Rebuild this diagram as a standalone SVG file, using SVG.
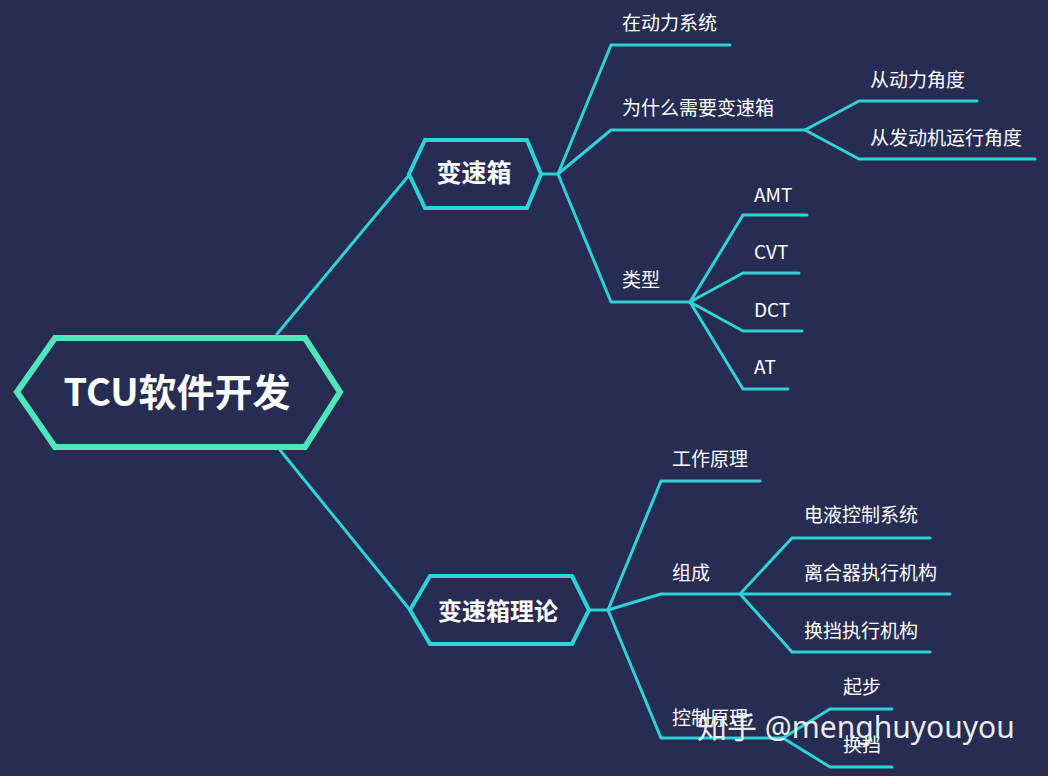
<svg xmlns="http://www.w3.org/2000/svg" width="1048" height="776" viewBox="0 0 1048 776">
<style>
.bg{fill:#262c52}
.ln{fill:none;stroke:#2dd3d7;stroke-width:3;stroke-linejoin:round;stroke-linecap:round}
.hex{fill:#262c52;stroke:#2dd3d7;stroke-width:4;stroke-linejoin:miter}
.root{fill:#262c52;stroke:#4fe6bc;stroke-width:6;stroke-linejoin:miter}
.t{fill:#ffffff;font-family:"Noto Sans CJK SC","Noto Sans",sans-serif;font-size:19px}
.tb{fill:#ffffff;font-family:"Noto Sans CJK SC","Noto Sans",sans-serif;font-weight:bold}
.wm{fill:#ffffff;fill-opacity:0.92;font-family:"Noto Sans","Noto Sans CJK SC",sans-serif;font-size:30px}
</style>
<rect class="bg" x="0" y="0" width="1048" height="776"/>
<g id="connectors">
<path class="ln" d="M277,334 L410,174"/>
<path class="ln" d="M280,450 L410,610"/>
<path class="ln" d="M541,174 H558"/>
<path class="ln" d="M558,174 L611,45 H730"/>
<path class="ln" d="M558,174 L611,130 H805"/>
<path class="ln" d="M805,130 L859,101 H977"/>
<path class="ln" d="M805,130 L859,159 H1035"/>
<path class="ln" d="M558,174 L611,302 H690"/>
<path class="ln" d="M690,302 L743,215 H807"/>
<path class="ln" d="M690,302 L743,273 H799"/>
<path class="ln" d="M690,302 L743,331 H802"/>
<path class="ln" d="M690,302 L743,389 H788"/>
<path class="ln" d="M589,610 H608"/>
<path class="ln" d="M608,610 L661,481 H760"/>
<path class="ln" d="M608,610 L661,594 H740"/>
<path class="ln" d="M740,594 L792,538 H930"/>
<path class="ln" d="M740,594 H950"/>
<path class="ln" d="M740,594 L792,652 H930"/>
<path class="ln" d="M608,610 L661,738 H783"/>
<path class="ln" d="M783,738 L830,709 H892"/>
<path class="ln" d="M783,738 L830,767 H892"/>
</g>
<g id="root">
<polygon class="root" points="17,392 55,338 305,338 340,392 305,447 55,447"/>
<text class="tb" x="177" y="406" font-size="38" text-anchor="middle">TCU软件开发</text>
</g>
<g id="n-biansuxiang">
<polygon class="hex" points="409,174 425,140 527,140 541,174 527,208 425,208"/>
<text class="tb" x="474" y="182" font-size="25" text-anchor="middle">变速箱</text>
</g>
<g id="n-lilun">
<polygon class="hex" points="410,610 430,576 572,576 589,610 572,644 430,644"/>
<text class="tb" x="498" y="620" font-size="24" text-anchor="middle">变速箱理论</text>
</g>
<g id="n-dongli"><text class="t" x="622" y="30">在动力系统</text></g>
<g id="n-why"><text class="t" x="622" y="115">为什么需要变速箱</text></g>
<g id="n-why1"><text class="t" x="870" y="87">从动力角度</text></g>
<g id="n-why2"><text class="t" x="870" y="145">从发动机运行角度</text></g>
<g id="n-type"><text class="t" x="622" y="287">类型</text></g>
<g id="n-amt"><text class="t" x="754" y="202">AMT</text></g>
<g id="n-cvt"><text class="t" x="754" y="259">CVT</text></g>
<g id="n-dct"><text class="t" x="754" y="317">DCT</text></g>
<g id="n-at"><text class="t" x="754" y="374">AT</text></g>
<g id="n-gongzuo"><text class="t" x="672" y="466">工作原理</text></g>
<g id="n-zucheng"><text class="t" x="672" y="580">组成</text></g>
<g id="n-dianye"><text class="t" x="804" y="522">电液控制系统</text></g>
<g id="n-lihe"><text class="t" x="804" y="580">离合器执行机构</text></g>
<g id="n-huandang-zx"><text class="t" x="804" y="638">换挡执行机构</text></g>
<g id="n-kongzhi"><text class="t" x="672" y="725">控制原理</text></g>
<g id="n-qibu"><text class="t" x="843" y="694">起步</text></g>
<g id="n-huandang"><text class="t" x="843" y="752">换挡</text></g>
<text class="wm" x="697" y="738">知乎 @menghuyouyou</text>
</svg>
